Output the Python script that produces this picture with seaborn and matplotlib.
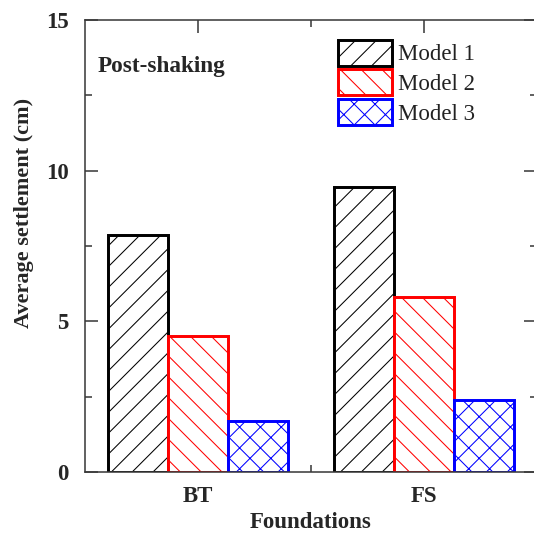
import matplotlib
matplotlib.use("Agg")
import matplotlib.pyplot as plt
from matplotlib.ticker import MultipleLocator, FixedLocator
import pandas as pd
import seaborn as sns

# Average post-shaking settlement per foundation type and model
foundations = ["BT", "FS"]
models = ["Model 1", "Model 2", "Model 3"]
settlement_model1 = [7.85, 9.45]
settlement_model2 = [4.5, 5.8]
settlement_model3 = [1.7, 2.4]

edge_colors = ["#000000", "#ff0000", "#0000ff"]
hatches = ["//", "\\\\", "xx"]

df = pd.DataFrame({
    "Foundations": foundations * 3,
    "Model": [m for m in models for _ in foundations],
    "Settlement": settlement_model1 + settlement_model2 + settlement_model3,
})

sns.set_style("ticks")
plt.rcParams["font.family"] = ["Liberation Serif", "DejaVu Serif"]
plt.rcParams["hatch.linewidth"] = 0.6

DPI = 125
fig = plt.figure(figsize=(534 / DPI, 541 / DPI), dpi=DPI)
ax = fig.add_axes([85 / 534, 69 / 541, 452 / 534, 452 / 541])

sns.barplot(data=df, x="Foundations", y="Settlement", hue="Model",
            order=foundations, hue_order=models,
            palette=edge_colors, fill=False, linewidth=1.7,
            width=0.8, errorbar=None, legend=False, ax=ax)

for container, hatch, color in zip(ax.containers, hatches, edge_colors):
    for bar in container:
        bar.set_hatch(hatch)
        bar.set_edgecolor(color)
        bar.set_facecolor("white")

ax.set_xlim(-0.5, 1.5)
ax.set_ylim(0, 15)
ax.yaxis.set_major_locator(MultipleLocator(5))
ax.yaxis.set_minor_locator(MultipleLocator(2.5))
ax.xaxis.set_minor_locator(FixedLocator([0.5]))

for side in ["left", "right", "top", "bottom"]:
    ax.spines[side].set_visible(True)
    ax.spines[side].set_color("#3a3a3a")
    ax.spines[side].set_linewidth(0.9)

ax.tick_params(which="both", direction="in", top=True, right=True,
               color="#3a3a3a", width=0.9)
ax.tick_params(which="major", length=7.5)
ax.tick_params(which="minor", length=4)
ax.tick_params(axis="y", which="major", pad=9.5)
ax.tick_params(axis="x", which="major", pad=8)

for lab in ax.get_xticklabels() + ax.get_yticklabels():
    lab.set_fontweight("bold")
    lab.set_fontsize(13.2)

ax.set_xlabel("Foundations", fontsize=13.2, fontweight="bold", labelpad=3)
ax.set_ylabel("Average settlement (cm)", fontsize=12.8, fontweight="bold")
ax.yaxis.set_label_coords(-0.112, 0.573)

ax.text(0.027, 0.898, "Post-shaking", transform=ax.transAxes,
        fontsize=13.4, fontweight="bold", ha="left", va="center")

leg = ax.legend(ax.containers, models, loc="upper left",
                bbox_to_anchor=(0.560, 0.956), frameon=False,
                fontsize=13.2, handlelength=2.35, handleheight=1.36,
                handletextpad=0.25, labelspacing=0.16,
                borderpad=0, borderaxespad=0)
for txt in leg.get_texts():
    txt.set_color("#222222")

fig.savefig("out.png", dpi=DPI)
